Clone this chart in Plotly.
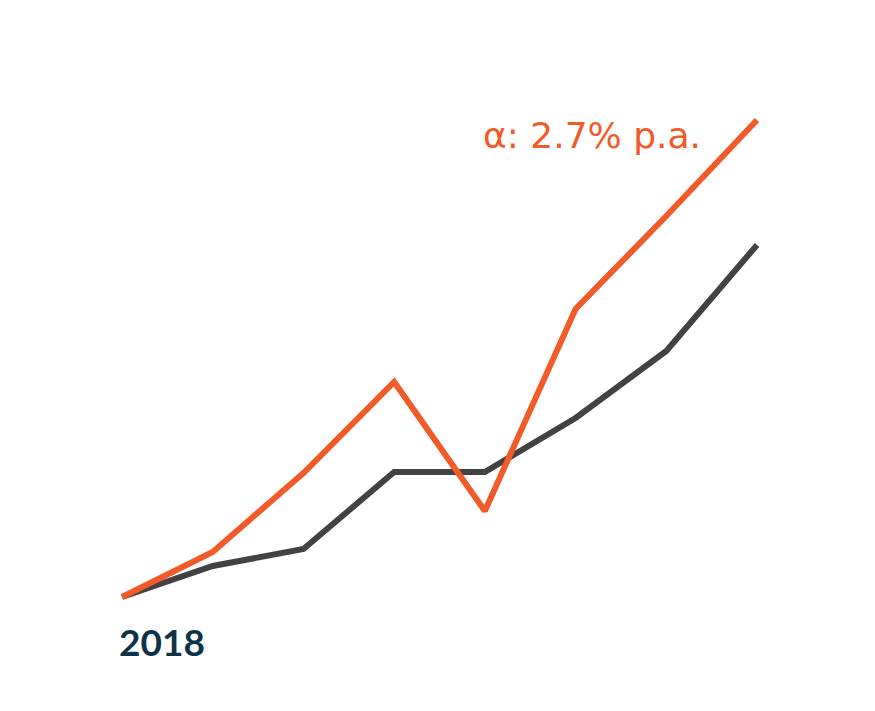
import plotly.graph_objects as go

# Années et indices de performance (base 100 en 2018)
years = [2018, 2019, 2020, 2021, 2022, 2023, 2024, 2025]
portfolio = [100, 104.5, 112.4, 121.5, 108.6, 128.8, 138.1, 147.7]
benchmark = [100, 103.1, 104.8, 112.5, 112.5, 117.9, 124.6, 135.2]

alpha_label = "α: 2.7% p.a."
start_label = "2018"

ORANGE = "#F15A29"
GREY = "#424242"
NAVY = "#0D3349"

fig = go.Figure()

fig.add_trace(
    go.Scatter(
        x=years, y=benchmark, mode="lines",
        line=dict(color=GREY, width=6), hoverinfo="skip",
    )
)
fig.add_trace(
    go.Scatter(
        x=years, y=portfolio, mode="lines",
        line=dict(color=ORANGE, width=6), hoverinfo="skip",
    )
)

fig.add_annotation(
    text=alpha_label, xref="paper", yref="paper",
    x=695 / 875, y=1 - 127 / 711, xanchor="right", yanchor="middle",
    showarrow=False, font=dict(family="DejaVu Sans", size=36, color=ORANGE),
)
fig.add_annotation(
    text=start_label, xref="paper", yref="paper",
    x=109 / 875, y=1 - 633 / 711, xanchor="left", yanchor="middle",
    showarrow=False, font=dict(family="Lato", size=37, color=NAVY, weight=700),
)

fig.update_layout(
    width=875, height=711,
    margin=dict(l=0, r=0, t=0, b=0),
    paper_bgcolor="white", plot_bgcolor="white",
    showlegend=False,
    xaxis=dict(range=[2016.743, 2026.389], visible=False, fixedrange=True),
    yaxis=dict(range=[87.8, 158.9], visible=False, fixedrange=True),
)

fig.write_html("out.html", config={"displayModeBar": False})
